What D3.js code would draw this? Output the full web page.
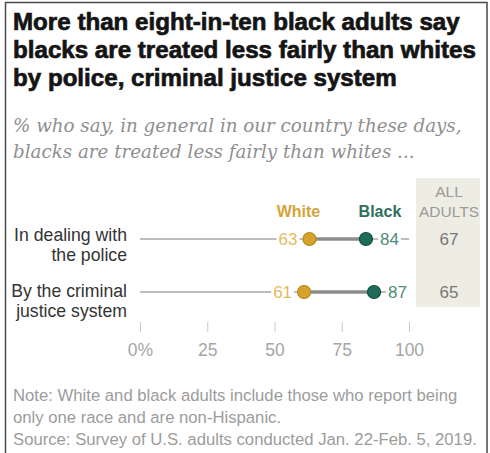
<!DOCTYPE html>
<html>
<head>
<meta charset="utf-8">
<script src="https://cdn.jsdelivr.net/npm/d3@7/dist/d3.min.js"></script>
<style>
  html, body { margin: 0; padding: 0; background: #fff; }
  svg { display: block; }
</style>
</head>
<body>
<svg id="chart" width="490" height="453"></svg>
<script>
// ---- data ----
const titleLines = [
  "More than eight-in-ten black adults say",
  "blacks are treated less fairly than whites",
  "by police, criminal justice system"
];
const subtitleLines = [
  "% who say, in general in our country these days,",
  "blacks are treated less fairly than whites ..."
];
const categories = [
  ["In dealing with", "the police"],
  ["By the criminal", "justice system"]
];
const seriesNames = ["White", "Black"];
const whiteValues = [63, 61];
const blackValues = [84, 87];
const allAdultsValues = [67, 65];
const allAdultsHeader = ["ALL", "ADULTS"];
const tickValues = [0, 25, 50, 75, 100];
const tickLabels = ["0%", "25", "50", "75", "100"];
const noteLines = [
  "Note: White and black adults include those who report being",
  "only one race and are non-Hispanic.",
  "Source: Survey of U.S. adults conducted Jan. 22-Feb. 5, 2019."
];

// ---- styles ----
const SANS = "'Liberation Sans', Arial, sans-serif";
const SERIF = "'DejaVu Serif', Georgia, serif";
const gold = "#d6a22b", goldStroke = "#b8871d", goldText = "#e2bb62";
const teal = "#1e6c59", tealStroke = "#134d3f", tealText = "#4f8b7d";

const svg = d3.select("#chart");

// border
svg.append("rect").attr("x", 5.5).attr("y", 2.5).attr("width", 481.5).attr("height", 470)
  .attr("fill", "none").attr("stroke", "#4a4a4a").attr("stroke-width", 1.5);

// scale a group of text lines so that one reference line has the given width
function fitGroup(sel, refIndex, target) {
  const n = sel.nodes()[refIndex];
  const fs = parseFloat(d3.select(n).attr("font-size"));
  const w = n.getComputedTextLength();
  sel.attr("font-size", (fs * target / w).toFixed(2));
}

// title
const title = svg.append("g").selectAll("text").data(titleLines).join("text")
  .attr("x", 13).attr("y", (d, i) => 30 + i * 28)
  .attr("font-family", SANS).attr("font-weight", "bold").attr("font-size", 22)
  .attr("fill", "#141414").attr("stroke", "#141414").attr("stroke-width", 0.7)
  .text(d => d);
fitGroup(title, 1, 463);

// subtitle
const sub = svg.append("g").selectAll("text").data(subtitleLines).join("text")
  .attr("x", 13).attr("y", (d, i) => 132 + i * 26)
  .attr("font-family", SERIF).attr("font-style", "italic").attr("font-size", 18)
  .attr("fill", "#8f8f8f").text(d => d);
fitGroup(sub, 0, 449);

// scales
const x = d3.scaleLinear().domain([0, 100]).range([140, 409]);
const y = d3.scalePoint().domain(d3.range(categories.length)).range([239, 292]);

// ALL ADULTS column
const colX = 449;
svg.append("rect").attr("x", 416).attr("y", 178).attr("width", 64).attr("height", 129)
  .attr("fill", "#eeede3");
const hdr = svg.append("g").selectAll("text").data(allAdultsHeader).join("text")
  .attr("x", colX).attr("y", (d, i) => 197 + i * 20)
  .attr("text-anchor", "middle").attr("font-family", SANS).attr("font-size", 16)
  .attr("fill", "#9a9a9a").text(d => d);
fitGroup(hdr, 1, 60);
svg.append("g").selectAll("text").data(allAdultsValues).join("text")
  .attr("x", colX).attr("y", (d, i) => y(i) + 6)
  .attr("text-anchor", "middle").attr("font-family", SANS).attr("font-size", 17)
  .attr("fill", "#777").text(d => d);

// legend
svg.append("text").attr("x", x(whiteValues[0]) - 11).attr("y", 217)
  .attr("text-anchor", "middle").attr("font-family", SANS).attr("font-weight", "bold")
  .attr("font-size", 16).attr("fill", "#d4a43a").text(seriesNames[0]);
svg.append("text").attr("x", x(blackValues[0]) + 14).attr("y", 217)
  .attr("text-anchor", "middle").attr("font-family", SANS).attr("font-weight", "bold")
  .attr("font-size", 16).attr("fill", "#2f6f60").text(seriesNames[1]);

// row labels
const rowLabelGroups = [];
categories.forEach((lines, i) => {
  const t = svg.append("g").selectAll("text").data(lines).join("text")
    .attr("x", 127).attr("y", (d, j) => y(i) + 2 + i * 3 + j * 20)
    .attr("text-anchor", "end").attr("font-family", SANS).attr("font-size", 16)
    .attr("fill", "#333").text(d => d);
  rowLabelGroups.push(t);
});
fitGroup(rowLabelGroups[0], 0, 113);
const rlfs = rowLabelGroups[0].attr("font-size");
rowLabelGroups[1].attr("font-size", rlfs);

// rows
const rows = svg.append("g").selectAll("g").data(categories).join("g");
rows.append("line")
  .attr("x1", x(0)).attr("x2", x(100)).attr("y1", (d, i) => y(i)).attr("y2", (d, i) => y(i))
  .attr("stroke", "#a8a8a8").attr("stroke-width", 1.5);
rows.append("line")
  .attr("x1", (d, i) => x(whiteValues[i])).attr("x2", (d, i) => x(blackValues[i]))
  .attr("y1", (d, i) => y(i)).attr("y2", (d, i) => y(i))
  .attr("stroke", "#8d8d8d").attr("stroke-width", 3.5);

// value labels with white backgrounds
rows.each(function(d, i) {
  const g = d3.select(this);
  const wl = g.append("text").attr("x", x(whiteValues[i]) - 12).attr("y", y(i) + 6)
    .attr("text-anchor", "end").attr("font-family", SANS).attr("font-size", 17)
    .attr("fill", goldText).text(whiteValues[i]);
  const bl = g.append("text").attr("x", x(blackValues[i]) + 14).attr("y", y(i) + 6)
    .attr("text-anchor", "start").attr("font-family", SANS).attr("font-size", 17)
    .attr("fill", tealText).text(blackValues[i]);
  [wl, bl].forEach(t => {
    const bb = t.node().getBBox();
    g.insert("rect", "text").attr("x", bb.x - 2).attr("y", y(i) - 3)
      .attr("width", bb.width + 4).attr("height", 6).attr("fill", "#fff");
  });
});

rows.append("circle")
  .attr("cx", (d, i) => x(whiteValues[i])).attr("cy", (d, i) => y(i)).attr("r", 6.5)
  .attr("fill", gold).attr("stroke", goldStroke).attr("stroke-width", 1.2);
rows.append("circle")
  .attr("cx", (d, i) => x(blackValues[i])).attr("cy", (d, i) => y(i)).attr("r", 6.5)
  .attr("fill", teal).attr("stroke", tealStroke).attr("stroke-width", 1.2);

// axis
const axis = d3.axisBottom(x).tickValues(tickValues)
  .tickFormat((d, i) => tickLabels[i]).tickSize(10).tickPadding(12);
const ax = svg.append("g").attr("transform", "translate(0,322)").call(axis);
ax.select(".domain").remove();
ax.selectAll(".tick line").attr("stroke", "#c8c8c8");
ax.selectAll(".tick text").attr("font-family", SANS).attr("font-size", 17.5).attr("fill", "#a5a5a5");

// notes
const notes = svg.append("g").selectAll("text").data(noteLines).join("text")
  .attr("x", 13).attr("y", (d, i) => 401 + i * 22)
  .attr("font-family", SANS).attr("font-size", 15).attr("fill", "#9c9c9c").text(d => d);
fitGroup(notes, 2, 464);
</script>
</body>
</html>
